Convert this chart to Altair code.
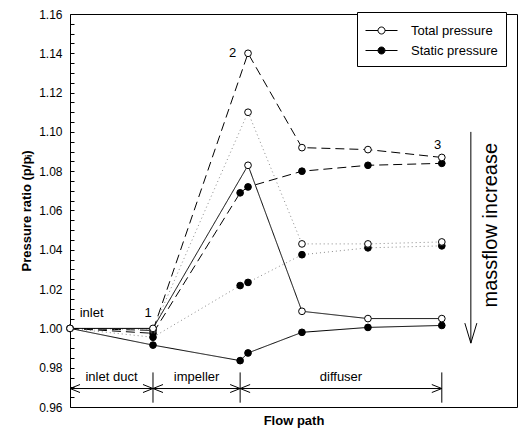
import altair as alt
import pandas as pd

# ---------------- data ----------------
# flow-path positions of the measuring stations
x_total = [0.0, 1.0, 2.145, 2.795, 3.59, 4.48]
x_static = [0.0, 1.0, 2.05, 2.145, 2.795, 3.59, 4.48]

# three operating points (massflow increases: dashed -> dotted -> solid)
case_names = ["low massflow", "medium massflow", "high massflow"]
total_low = [1.000, 0.999, 1.140, 1.092, 1.091, 1.087]
total_mid = [1.000, 0.9995, 1.110, 1.043, 1.043, 1.044]
total_high = [1.000, 1.000, 1.083, 1.0087, 1.005, 1.005]
static_low = [1.000, 0.9975, 1.069, 1.072, 1.080, 1.083, 1.084]
static_mid = [1.000, 0.9955, 1.0218, 1.0234, 1.0375, 1.041, 1.042]
static_high = [1.000, 0.9915, 0.9836, 0.9875, 0.998, 1.0005, 1.0015]

kinds = ["Total pressure", "Static pressure"]

station_labels = ["inlet", "1", "2", "3"]
station_label_x = [0.26, 0.94, 1.96, 4.43]
station_label_y = [1.0077, 1.008, 1.140, 1.0934]

region_names = ["inlet duct", "impeller", "diffuser"]
region_start = [0.0, 1.0, 2.05]
region_end = [1.0, 2.05, 4.48]
boundary_x = [1.0, 2.05, 4.48]

# ---------------- tables ----------------
rows = []
for case, tot, sta in zip(case_names,
                          [total_low, total_mid, total_high],
                          [static_low, static_mid, static_high]):
    for i, (xv, yv) in enumerate(zip(x_total, tot)):
        rows.append(dict(case=case, kind=kinds[0], x=xv, y=yv, o=i, marker=True))
    for i, (xv, yv) in enumerate(zip(x_static, sta)):
        rows.append(dict(case=case, kind=kinds[1], x=xv, y=yv, o=i, marker=(i > 0)))
df = pd.DataFrame(rows)

lab_df = pd.DataFrame(dict(label=station_labels, x=station_label_x, y=station_label_y))

arrow_y = 0.9694
reg_df = pd.DataFrame(dict(label=region_names, x=region_start, x2=region_end,
                           xm=[(a + b) / 2 for a, b in zip(region_start, region_end)],
                           y=[arrow_y] * 3, ylab=[0.9752] * 3))
bnd_df = pd.DataFrame(dict(x=boundary_x, y=[0.9622] * 3, y2=[0.9776] * 3))

mf_df = pd.DataFrame(dict(x=[4.83], y=[1.100], y2=[0.9925], ty=[1.0525], tx=[5.07],
                          label=["massflow increase"]))

FONT = "Liberation Sans"
TFONT = "Liberation Sans, DejaVu Sans"
xs = alt.Scale(domain=[0, 5.386], nice=False, zero=False)
ys = alt.Scale(domain=[0.96, 1.16], nice=False, zero=False)

major = "round(datum.value*1000) % 20 == 0"
y_values = [round(0.96 + 0.005 * i, 3) for i in range(41)]

xaxis = alt.Axis(labels=False, ticks=False, domain=False, grid=False,
                 title="Flow path", titleFont=FONT, titleFontSize=13,
                 titleFontWeight="bold", titlePadding=7, titleColor="black")
yaxis = alt.Axis(values=y_values, format=".2f", labelExpr=f"{major} ? datum.label : ''",
                 domain=False, grid=False, tickSize=4, offset=-4, tickColor="black",
                 labelPadding=8, labelFont=FONT, labelFontSize=12, labelColor="black",
                 title="Pressure ratio (p/pᵢ)", titleFont=TFONT, titleFontSize=13,
                 titleFontWeight="bold", titlePadding=5, titleColor="black")

X = alt.X("x:Q", scale=xs, axis=xaxis)
Y = alt.Y("y:Q", scale=ys, axis=yaxis)

lines = alt.Chart(df).mark_line(strokeWidth=1, clip=False).encode(
    x=X, y=Y,
    detail="kind:N",
    order="o:Q",
    color=alt.Color("case:N", legend=None,
                    scale=alt.Scale(domain=case_names, range=["black", "#8a8a8a", "black"])),
    strokeDash=alt.StrokeDash("case:N", legend=None,
                              scale=alt.Scale(domain=case_names,
                                              range=[[9, 5], [1, 3], [1, 0]])),
)

legend = alt.Legend(
    title=None, orient="none", legendX=287, legendY=-2,
    strokeColor="black", fillColor="white", padding=8, rowPadding=2,
    symbolType="M-1.6,0H-0.35M0.35,0H1.6M0.35,0A0.35,0.35,0,1,1,-0.35,0A0.35,0.35,0,1,1,0.35,0Z",
    symbolSize=400, symbolStrokeColor="black", symbolStrokeWidth=1,
    symbolOffset=6, labelOffset=19,
    labelFont=FONT, labelFontSize=13, labelColor="black", cornerRadius=0,
)
fill = alt.Fill("kind:N", scale=alt.Scale(domain=kinds, range=["white", "black"]), legend=legend)

static_pts = alt.Chart(df).transform_filter(
    (alt.datum.kind == kinds[1]) & alt.datum.marker
).mark_point(shape="circle", filled=True, size=45, stroke="black", strokeWidth=1,
             opacity=1, clip=False).encode(x=X, y=Y, fill=fill)
total_pts = alt.Chart(df).transform_filter(
    alt.datum.kind == kinds[0]
).mark_point(shape="circle", filled=True, size=45, stroke="black", strokeWidth=1,
             opacity=1, clip=False).encode(x=X, y=Y, fill=fill)

station_txt = alt.Chart(lab_df).mark_text(font=FONT, fontSize=13, color="black",
                                          align="center", baseline="middle").encode(
    x=X, y=Y, text="label:N")

reg_rules = alt.Chart(reg_df).mark_rule(color="black", strokeWidth=1).encode(
    x=X, x2="x2:Q", y=Y)
reg_right = alt.Chart(reg_df).mark_point(
    shape="M-1,-0.4L0,0L-1,0.4", size=400, filled=False, stroke="black",
    strokeWidth=1, opacity=1).encode(x=alt.X("x2:Q", scale=xs, axis=xaxis), y=Y)
reg_left = alt.Chart(reg_df).mark_point(
    shape="M1,-0.4L0,0L1,0.4", size=400, filled=False, stroke="black",
    strokeWidth=1, opacity=1).encode(x=X, y=Y)
reg_txt = alt.Chart(reg_df).mark_text(font=FONT, fontSize=13, color="black",
                                      baseline="middle").encode(
    x=alt.X("xm:Q", scale=xs, axis=xaxis), y=alt.Y("ylab:Q", scale=ys, axis=yaxis),
    text="label:N")
bnd = alt.Chart(bnd_df).mark_rule(color="black", strokeWidth=1).encode(
    x=X, y=Y, y2="y2:Q")

mf_rule = alt.Chart(mf_df).mark_rule(color="black", strokeWidth=1).encode(
    x=X, y=Y, y2="y2:Q")
mf_head = alt.Chart(mf_df).mark_point(
    shape="M-0.3,-1L0,0L0.3,-1", size=1600, filled=False, stroke="black",
    strokeWidth=1, opacity=1).encode(x=X, y=alt.Y("y2:Q", scale=ys, axis=yaxis))
mf_txt = alt.Chart(mf_df).mark_text(font=FONT, fontSize=20, color="black", angle=270,
                                    align="center", baseline="middle").encode(
    x=alt.X("tx:Q", scale=xs, axis=xaxis), y=alt.Y("ty:Q", scale=ys, axis=yaxis),
    text="label:N")

chart = alt.layer(
    lines, reg_rules, reg_right, reg_left, bnd, reg_txt,
    mf_rule, mf_head, mf_txt, station_txt, static_pts, total_pts,
).properties(
    width=447, height=393,
    autosize=alt.AutoSizeParams(type="none"),
    padding={"left": 70, "top": 14, "right": 2, "bottom": 21},
    background="white",
).configure_view(stroke="black", strokeWidth=1)

chart.save("out.html", embed_options={"renderer": "svg", "actions": False})
